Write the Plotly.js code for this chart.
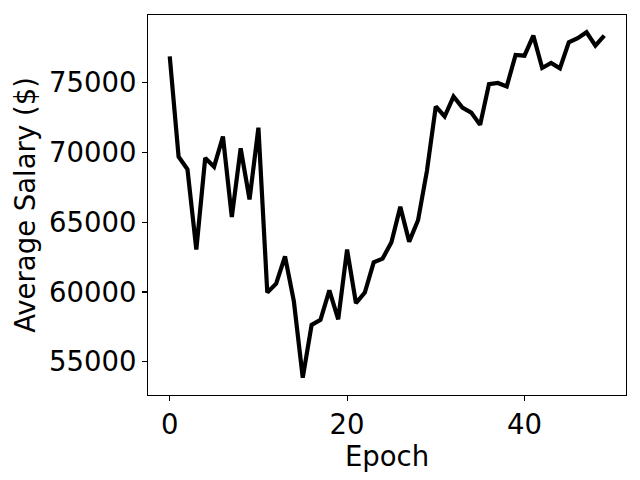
<!DOCTYPE html>
<html>
<head>
<meta charset="utf-8">
<script src="https://cdn.plot.ly/plotly-3.0.1.min.js"></script>
<style>
  html, body { margin: 0; padding: 0; background: #fff; }
  #chart { width: 640px; height: 480px; }
</style>
</head>
<body>
<div id="chart"></div>
<script>
// average salary per epoch
const epochs = Array.from({ length: 50 }, (_, i) => i);
const avgSalary = [
  76890, 69700, 68790, 63040, 69600, 68980, 71140, 65380, 70300, 66630,
  71780, 59960, 60590, 62550, 59320, 53850, 57640, 58000, 60110, 58040,
  63040, 59200, 59960, 62120, 62390, 63560, 66100, 63610, 65140, 68670,
  73300, 72580, 74010, 73220, 72860, 71980, 74900, 74980, 74730, 76990,
  76940, 78380, 76060, 76420, 76030, 77900, 78190, 78620, 77660, 78380
];

const font = { family: 'DejaVu Sans', size: 27.5, color: '#000' };

const trace = {
  x: epochs,
  y: avgSalary,
  type: 'scatter',
  mode: 'lines',
  line: { color: '#000', width: 4.2 }
};

const axisCommon = {
  showgrid: false,
  zeroline: false,
  showline: true,
  mirror: true,
  linecolor: '#000',
  linewidth: 1.1,
  ticks: 'outside',
  ticklen: 5,
  tickwidth: 1.1,
  tickcolor: '#000',
  tickfont: font
};

const layout = {
  width: 640,
  height: 480,
  margin: { l: 148, r: 14, t: 15, b: 85 },
  paper_bgcolor: '#fff',
  plot_bgcolor: '#fff',
  showlegend: false,
  font: font,
  xaxis: Object.assign({}, axisCommon, {
    range: [-2.45, 51.45],
    tickvals: [0, 20, 40],
    title: { text: 'Epoch', font: font, standoff: 0 }
  }),
  yaxis: Object.assign({}, axisCommon, {
    range: [52612, 79857],
    tickvals: [55000, 60000, 65000, 70000, 75000],
    tickformat: 'd',
    title: { text: 'Average Salary ($)', font: font, standoff: 5 }
  })
};

Plotly.newPlot('chart', [trace], layout, { displayModeBar: false, staticPlot: true });
</script>
</body>
</html>
